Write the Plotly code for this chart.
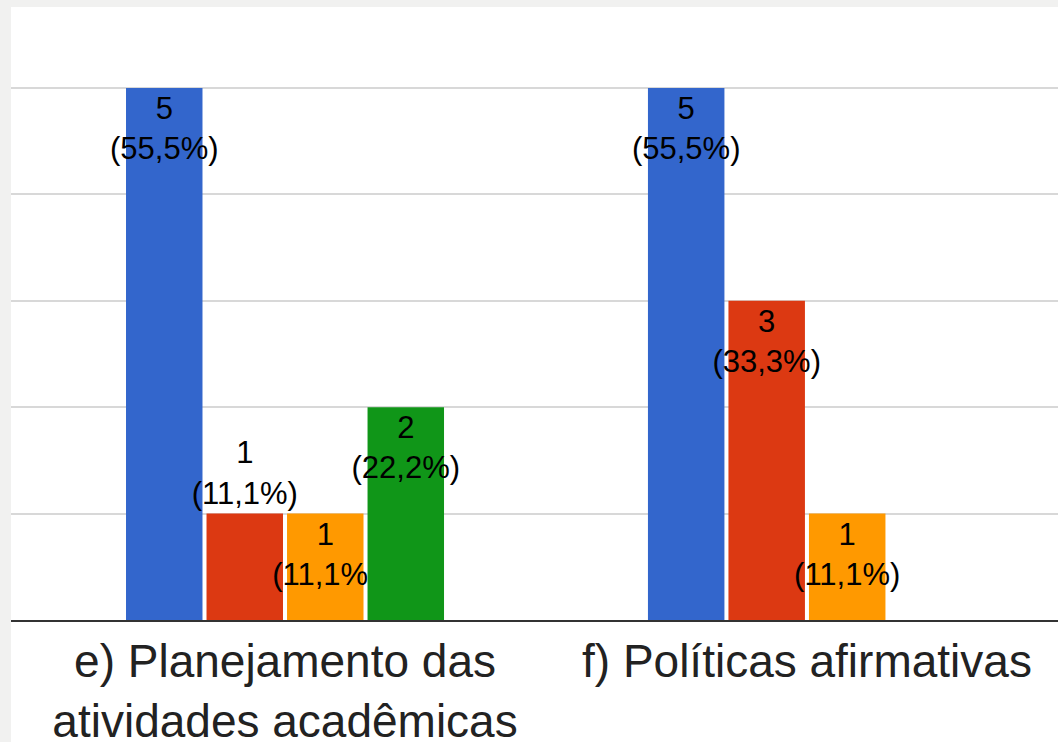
import plotly.graph_objects as go

# categories on the x axis
categorias = ["e) Planejamento das<br>atividades acadêmicas", "f) Políticas afirmativas"]

# counts for each answer option, one list per series
serie_azul = [5, 5]
serie_vermelha = [1, 3]
serie_laranja = [1, 1]
serie_verde = [2, 0]

# percentage labels as shown on the chart
pct_azul = ["55,5%", "55,5%"]
pct_vermelha = ["11,1%", "33,3%"]
pct_laranja = ["11,1%", "11,1%"]
pct_verde = ["22,2%", ""]

cores = ["#3366cc", "#dc3912", "#ff9900", "#109618"]

# where each series puts its labels (red "e" label sits above, avoids the orange one)
pos_azul = ["inside", "inside"]
pos_vermelha = ["outside", "inside"]
pos_laranja = ["inside", "inside"]
pos_verde = ["inside", "inside"]


def rotulos(valores, pcts):
    # "n<br>(pct)" but nothing for empty bars
    return [f"{v}<br>({p})" if v else "" for v, p in zip(valores, pcts)]


fig = go.Figure()

for vals, pcts, pos, cor in zip(
    [serie_azul, serie_vermelha, serie_laranja, serie_verde],
    [pct_azul, pct_vermelha, pct_laranja, pct_verde],
    [pos_azul, pos_vermelha, pos_laranja, pos_verde],
    cores,
):
    fig.add_trace(go.Bar(
        x=categorias,
        y=vals,
        marker=dict(color=cor, line=dict(width=0)),
        text=rotulos(vals, pcts),
        textposition=pos,
        insidetextanchor="end",
        textangle=0,
        constraintext="none",
        textfont=dict(family="Arial, Liberation Sans, sans-serif", size=31, color="#000000"),
        cliponaxis=False,
        showlegend=False,
        hoverinfo="skip",
    ))

# grey frame strips on the left and top, like the screenshot
for x0, x1, y0, y1 in [(-0.02, 0, -0.3, 1.02), (-0.02, 1.01, 1.0, 1.02)]:
    fig.add_shape(type="rect", xref="paper", yref="paper",
                  x0=x0, x1=x1, y0=y0, y1=y1,
                  fillcolor="#f1f1f0", line=dict(width=0), layer="below")

fig.update_layout(
    width=1058,
    height=742,
    barmode="group",
    bargap=0.383,
    bargroupgap=0.05,
    paper_bgcolor="#ffffff",
    plot_bgcolor="#ffffff",
    margin=dict(l=11, r=0, t=7, b=122, autoexpand=False),
    font=dict(family="Arial, Liberation Sans, sans-serif"),
)

fig.update_xaxes(
    range=[-0.525, 1.481],
    showline=True,
    linecolor="#333333",
    linewidth=2,
    showgrid=False,
    ticks="outside",
    ticklen=0,
    tickcolor="rgba(0,0,0,0)",
    tickfont=dict(size=46, color="#222222"),
)

fig.update_yaxes(
    range=[0, 5.76],
    dtick=1,
    showticklabels=False,
    gridcolor="#d8d8d8",
    gridwidth=2,
    zeroline=False,
)

# drop the default 8px page margin so the figure fills the window
fig.write_html("out.html",
               config={"displayModeBar": False},
               post_script="document.body.style.margin='0';")
